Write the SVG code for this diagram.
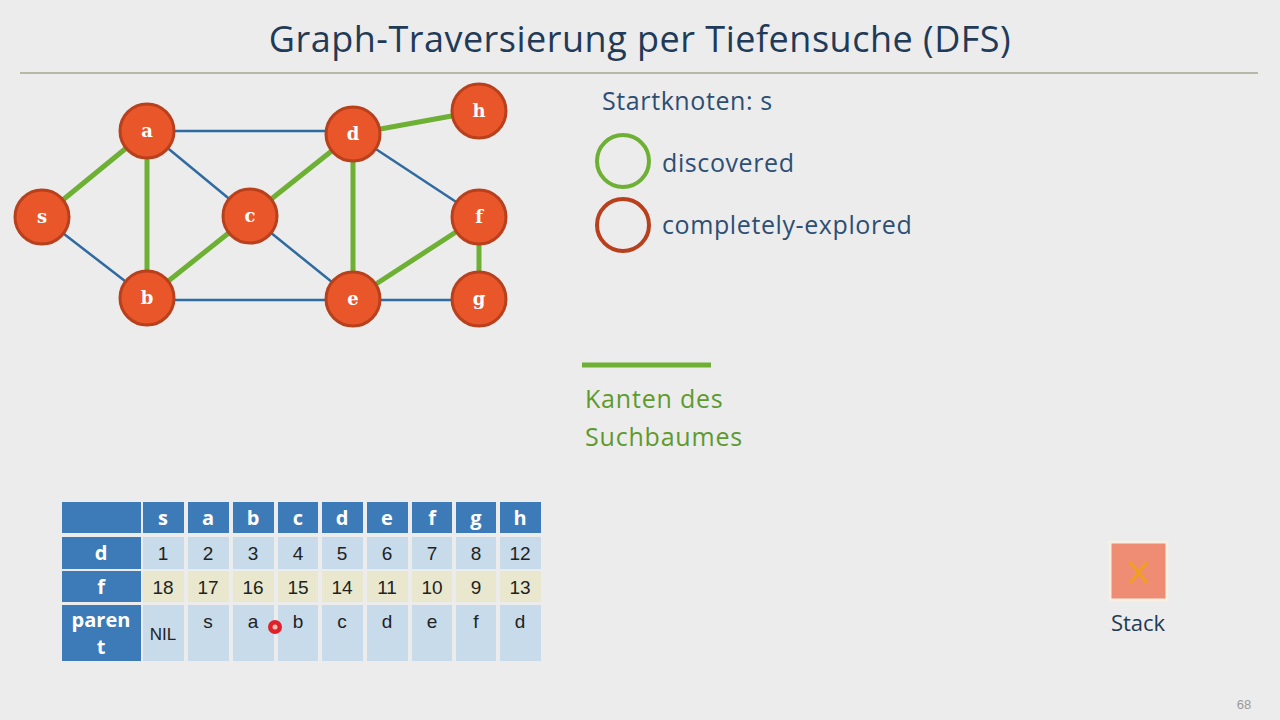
<svg xmlns="http://www.w3.org/2000/svg" width="1280" height="720" viewBox="0 0 1280 720">
<style>
.n circle{fill:#e8562a;stroke:#b8401c;stroke-width:3}
.n text{font-family:"DejaVu Serif",serif;font-weight:bold;font-size:18px;fill:#fff;text-anchor:middle}
.t{stroke:#2f6aa0;stroke-width:2.5}
.g{stroke:#6db033;stroke-width:5}
.hd{fill:#3d7ab8}
.hc{fill:#c7dbea}
.fc{fill:#e9e8cf}
.ht{font-family:"Open Sans",sans-serif;font-weight:bold;font-size:20px;fill:#fff;text-anchor:middle}
.ct{font-family:"Liberation Sans",sans-serif;font-size:19px;fill:#222;text-anchor:middle}
.lbl{font-family:"Open Sans",sans-serif;font-size:25px;letter-spacing:0.6px;fill:#2c4f73}
</style>
<rect width="1280" height="720" fill="#ececec"/>
<text x="640" y="52" text-anchor="middle" font-family="Open Sans,sans-serif" font-size="36" letter-spacing="0.5" fill="#1f3b57">Graph-Traversierung per Tiefensuche (DFS)</text>
<line x1="20" y1="73" x2="1258" y2="73" stroke="#b8b8a8" stroke-width="2"/>
<g id="connectors">
<line class="t" x1="147" y1="131" x2="353" y2="131"/>
<line class="t" x1="147" y1="131" x2="250" y2="216"/>
<line class="t" x1="42" y1="217" x2="147" y2="298"/>
<line class="t" x1="250" y1="216" x2="353" y2="299"/>
<line class="t" x1="353" y1="134" x2="479" y2="217"/>
<line class="t" x1="147" y1="300" x2="353" y2="300"/>
<line class="t" x1="353" y1="300" x2="479" y2="300"/>
<line class="g" x1="42" y1="217" x2="147" y2="131"/>
<line class="g" x1="147" y1="131" x2="147" y2="298"/>
<line class="g" x1="147" y1="298" x2="250" y2="216"/>
<line class="g" x1="250" y1="216" x2="353" y2="134"/>
<line class="g" x1="353" y1="134" x2="353" y2="299"/>
<line class="g" x1="353" y1="299" x2="479" y2="217"/>
<line class="g" x1="479" y1="217" x2="479" y2="299"/>
<line class="g" x1="353" y1="134" x2="479" y2="111"/>
</g>
<g id="s" class="n"><circle cx="42" cy="217" r="27"/><text x="42" y="223">s</text></g>
<g id="a" class="n"><circle cx="147" cy="131" r="27"/><text x="147" y="137">a</text></g>
<g id="b" class="n"><circle cx="147" cy="298" r="27"/><text x="147" y="304">b</text></g>
<g id="c" class="n"><circle cx="250" cy="216" r="27"/><text x="250" y="222">c</text></g>
<g id="d" class="n"><circle cx="353" cy="134" r="27"/><text x="353" y="140">d</text></g>
<g id="e" class="n"><circle cx="353" cy="299" r="27"/><text x="353" y="305">e</text></g>
<g id="f" class="n"><circle cx="479" cy="217" r="27"/><text x="479" y="223">f</text></g>
<g id="g" class="n"><circle cx="479" cy="299" r="27"/><text x="479" y="305">g</text></g>
<g id="h" class="n"><circle cx="479" cy="111" r="27"/><text x="479" y="117">h</text></g>
<g id="legend">
<text class="lbl" x="602" y="110">Startknoten: s</text>
<circle cx="623" cy="161" r="26" fill="none" stroke="#6db033" stroke-width="4"/>
<text class="lbl" x="662" y="172">discovered</text>
<circle cx="623" cy="225" r="26" fill="none" stroke="#b8401c" stroke-width="4"/>
<text class="lbl" x="662" y="234">completely-explored</text>
<line x1="582" y1="365" x2="711" y2="365" stroke="#6db033" stroke-width="5"/>
<text x="585" y="408" font-family="Open Sans,sans-serif" font-size="25" letter-spacing="0.8" fill="#5e9a2c">Kanten des</text>
<text x="585" y="446" font-family="Open Sans,sans-serif" font-size="25" letter-spacing="0.8" fill="#5e9a2c">Suchbaumes</text>
</g>
<g id="table">
<rect class="hd" x="62" y="502" width="79" height="31"/>
<rect class="hd" x="62" y="537" width="79" height="32"/>
<rect class="hd" x="62" y="571" width="79" height="31"/>
<rect class="hd" x="62" y="605" width="79" height="56"/>
<text class="ht" x="101" y="560">d</text>
<text class="ht" x="101" y="594">f</text>
<text class="ht" x="101" y="627">paren</text>
<text class="ht" x="101" y="654">t</text>
<g>
<rect class="hd" x="143" y="502" width="41" height="31"/><rect class="hc" x="143" y="537" width="41" height="32"/><rect class="fc" x="143" y="571" width="41" height="31"/><rect class="hc" x="143" y="605" width="41" height="56"/>
<rect class="hd" x="188" y="502" width="41" height="31"/><rect class="hc" x="188" y="537" width="41" height="32"/><rect class="fc" x="188" y="571" width="41" height="31"/><rect class="hc" x="188" y="605" width="41" height="56"/>
<rect class="hd" x="233" y="502" width="41" height="31"/><rect class="hc" x="233" y="537" width="41" height="32"/><rect class="fc" x="233" y="571" width="41" height="31"/><rect class="hc" x="233" y="605" width="41" height="56"/>
<rect class="hd" x="278" y="502" width="40" height="31"/><rect class="hc" x="278" y="537" width="40" height="32"/><rect class="fc" x="278" y="571" width="40" height="31"/><rect class="hc" x="278" y="605" width="40" height="56"/>
<rect class="hd" x="322" y="502" width="41" height="31"/><rect class="hc" x="322" y="537" width="41" height="32"/><rect class="fc" x="322" y="571" width="41" height="31"/><rect class="hc" x="322" y="605" width="41" height="56"/>
<rect class="hd" x="367" y="502" width="41" height="31"/><rect class="hc" x="367" y="537" width="41" height="32"/><rect class="fc" x="367" y="571" width="41" height="31"/><rect class="hc" x="367" y="605" width="41" height="56"/>
<rect class="hd" x="412" y="502" width="40" height="31"/><rect class="hc" x="412" y="537" width="40" height="32"/><rect class="fc" x="412" y="571" width="40" height="31"/><rect class="hc" x="412" y="605" width="40" height="56"/>
<rect class="hd" x="456" y="502" width="40" height="31"/><rect class="hc" x="456" y="537" width="40" height="32"/><rect class="fc" x="456" y="571" width="40" height="31"/><rect class="hc" x="456" y="605" width="40" height="56"/>
<rect class="hd" x="500" y="502" width="41" height="31"/><rect class="hc" x="500" y="537" width="41" height="32"/><rect class="fc" x="500" y="571" width="41" height="31"/><rect class="hc" x="500" y="605" width="41" height="56"/>
</g>
<g class="ht">
<text x="163" y="525">s</text><text x="208" y="525">a</text><text x="253" y="525">b</text><text x="298" y="525">c</text><text x="342" y="525">d</text><text x="387" y="525">e</text><text x="432" y="525">f</text><text x="476" y="525">g</text><text x="520" y="525">h</text>
</g>
<g class="ct">
<text x="163" y="560">1</text><text x="208" y="560">2</text><text x="253" y="560">3</text><text x="298" y="560">4</text><text x="342" y="560">5</text><text x="387" y="560">6</text><text x="432" y="560">7</text><text x="476" y="560">8</text><text x="520" y="560">12</text>
<text x="163" y="594">18</text><text x="208" y="594">17</text><text x="253" y="594">16</text><text x="298" y="594">15</text><text x="342" y="594">14</text><text x="387" y="594">11</text><text x="432" y="594">10</text><text x="476" y="594">9</text><text x="520" y="594">13</text>
<text x="163" y="640" font-size="17">NIL</text><text x="208" y="628">s</text><text x="253" y="628">a</text><text x="298" y="628">b</text><text x="342" y="628">c</text><text x="387" y="628">d</text><text x="432" y="628">e</text><text x="476" y="628">f</text><text x="520" y="628">d</text>
</g>
<circle cx="275" cy="627" r="7" fill="#e0202a"/><circle cx="275" cy="627" r="2.5" fill="#f4c0b0"/>
</g>
<g id="stack">
<rect x="1110" y="542" width="57" height="58" fill="#ee8d73" stroke="#f6efe4" stroke-width="3"/>
<line x1="1130" y1="562" x2="1147" y2="583" stroke="#f0a020" stroke-width="3"/>
<line x1="1147" y1="562" x2="1130" y2="583" stroke="#f0a020" stroke-width="3"/>
<text x="1138" y="631" text-anchor="middle" font-family="Open Sans,sans-serif" font-size="22" fill="#1f3b57">Stack</text>
</g>
<text x="1244" y="709" text-anchor="middle" font-family="Liberation Sans,sans-serif" font-size="13" fill="#999">68</text>
</svg>
